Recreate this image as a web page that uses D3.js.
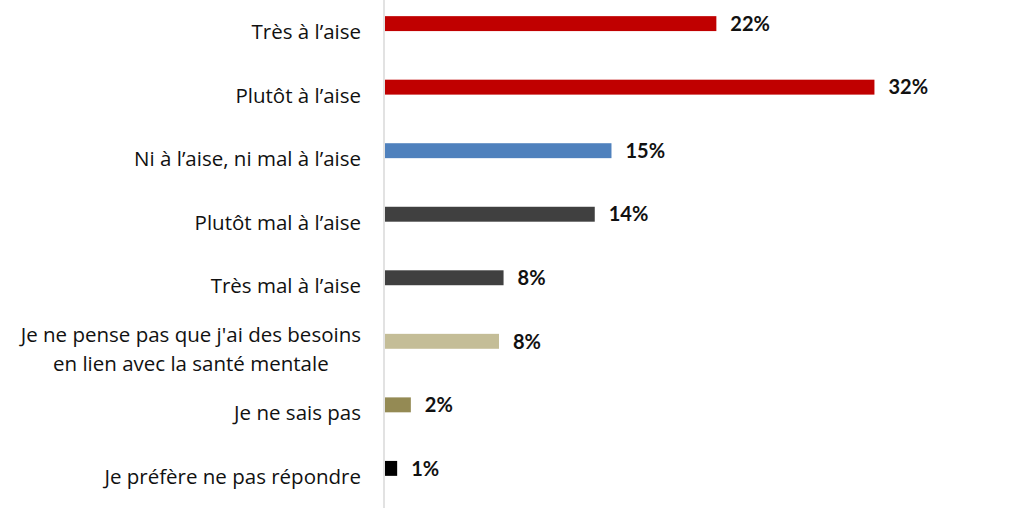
<script src="https://cdn.jsdelivr.net/npm/d3@7"></script>
<style>
  body{ margin:0; background:#fff; }
  svg{ display:block; }
  .cat{ font-family: "Open Sans", Lato, sans-serif; font-size:20.5px; fill:#111; }
  .val{ font-family: Lato, "Open Sans", sans-serif; font-size:20px; font-weight:bold; fill:#111; }
</style>
<body>
<script>
    var width = 1024;
    var height = 508;

    // categories, top to bottom (\n = line break)
    var categories = [
        "Très à l’aise",
        "Plutôt à l’aise",
        "Ni à l’aise, ni mal à l’aise",
        "Plutôt mal à l’aise",
        "Très mal à l’aise",
        "Je ne pense pas que j'ai des besoins\nen lien avec la santé mentale",
        "Je ne sais pas",
        "Je préfère ne pas répondre"
    ];
    // bar lengths and the printed labels
    var values = [21.8, 32.2, 14.9, 13.8, 7.8, 7.5, 1.7, 0.8];
    var labels = ["22%", "32%", "15%", "14%", "8%", "8%", "2%", "1%"];
    var colors = ["#C00000", "#C00000", "#4F81BD", "#404040", "#404040", "#C4BD97", "#948A54", "#000000"];

    var data = categories.map(function(c, i){
        return {cat: c, v: values[i], label: labels[i], color: colors[i]};
    });

    var svg = d3.select("body")
        .append("svg")
        .attr("width", width)
        .attr("height", height);

    var axisX = 384;

    var x = d3.scaleLinear()
        .domain([0, 40])
        .range([axisX + 1, axisX + 1 + 608]);

    var y = d3.scaleBand()
        .domain(d3.range(categories.length))
        .range([-8, 500])
        .paddingInner(0.765)
        .paddingOuter(0.38);

    // axis line
    svg.append("line")
        .attr("x1", axisX).attr("x2", axisX)
        .attr("y1", 0).attr("y2", height)
        .attr("stroke", "#d9d9d9")
        .attr("stroke-width", 1.5);

    // bars
    svg.selectAll("rect.bar")
        .data(data)
        .enter().append("rect")
        .attr("class", "bar")
        .attr("x", x(0))
        .attr("y", function(d, i){ return y(i); })
        .attr("width", function(d){ return x(d.v) - x(0); })
        .attr("height", y.bandwidth())
        .attr("fill", function(d){ return d.color; });

    // value labels
    svg.selectAll("text.val")
        .data(data)
        .enter().append("text")
        .attr("class", "val")
        .attr("x", function(d){ return x(d.v) + 14; })
        .attr("y", function(d, i){ return y(i) + y.bandwidth() / 2; })
        .attr("dy", "0.36em")
        .text(function(d){ return d.label; });

    // category labels (a little below the bar centre, like the original)
    var labelRight = 361;
    var lineGap = 29;
    data.forEach(function(d, i){
        var lines = d.cat.split("\n");
        var cy = y(i) + y.bandwidth() / 2 + 8;
        var g = svg.append("g");
        var texts = lines.map(function(l, k){
            return g.append("text")
                .attr("class", "cat")
                .attr("y", cy + (k - (lines.length - 1) / 2) * lineGap)
                .attr("dy", "0.36em")
                .text(l);
        });
        if (lines.length === 1) {
            texts[0].attr("x", labelRight).attr("text-anchor", "end");
        } else {
            var w = d3.max(texts, function(t){ return t.node().getComputedTextLength(); });
            texts.forEach(function(t){
                t.attr("x", labelRight - w / 2).attr("text-anchor", "middle");
            });
        }
    });
</script>
</body>
